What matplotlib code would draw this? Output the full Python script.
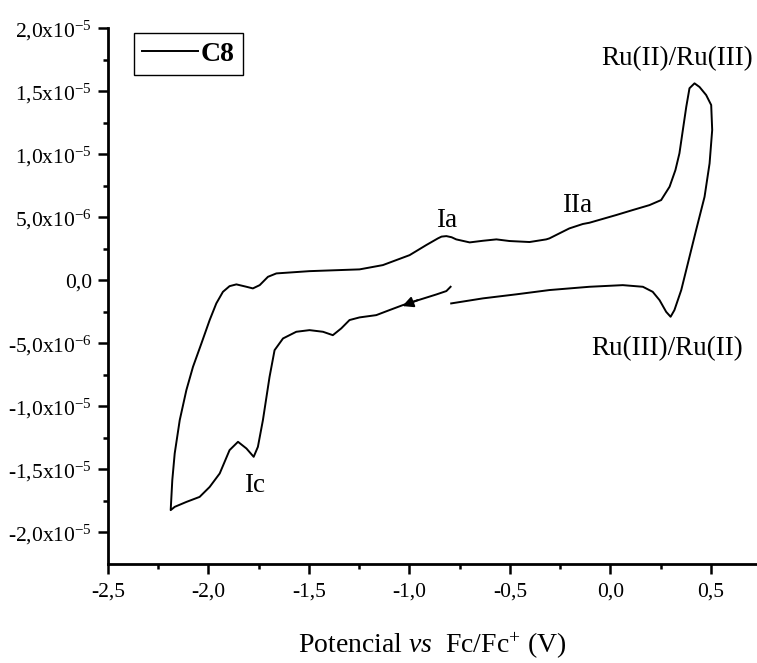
import numpy as np
import matplotlib
matplotlib.use("Agg")
import matplotlib.pyplot as plt
from matplotlib.lines import Line2D

plt.rcParams['font.family'] = ['Liberation Serif', 'DejaVu Serif']
plt.rcParams['mathtext.fontset'] = 'custom'
plt.rcParams['mathtext.rm'] = 'Liberation Serif'
plt.rcParams['mathtext.it'] = 'Liberation Serif:italic'
plt.rcParams['mathtext.bf'] = 'Liberation Serif:bold'

# Cyclic voltammogram of C8: potential (V vs Fc/Fc+) and current (x1e-6 A)
potential = [
    -0.792, -0.634, -0.468, -0.303, -0.104, 0.062, 0.162, 0.211, 0.245, 0.278,
    0.300, 0.319, 0.353, 0.386, 0.427, 0.469, 0.494, 0.507, 0.502,
    0.477, 0.444, 0.419, 0.394, 0.378, 0.361, 0.344, 0.324, 0.295, 0.253,
    0.195, 0.112, 0.029, -0.104, -0.137, -0.204, -0.253, -0.303, -0.319,
    -0.402, -0.502, -0.567, -0.634, -0.700, -0.767, -0.790, -0.816, -0.840,
    -0.858, -0.916, -0.999, -1.132, -1.248, -1.497, -1.662, -1.704, -1.745,
    -1.779, -1.811, -1.861, -1.895, -1.928, -1.961, -1.994, -2.035, -2.077,
    -2.110, -2.143, -2.168, -2.180, -2.188,
    -2.168, -2.110, -2.044, -1.994, -1.944, -1.895, -1.853, -1.811, -1.775,
    -1.754, -1.729, -1.696, -1.671, -1.629, -1.563, -1.497, -1.430, -1.381,
    -1.339, -1.298, -1.248, -1.165, -1.099, -1.032, -0.966, -0.866, -0.816,
    -0.795,
]
current_uA = [
    -1.85, -1.45, -1.13, -0.79, -0.53, -0.40, -0.53, -0.93, -1.59, -2.52,
    -2.91, -2.38, -0.79, 1.33, 3.97, 6.61, 9.26, 11.91, 13.89,
    14.68, 15.32, 15.61, 15.22, 13.75, 11.91, 10.06, 8.73, 7.41, 6.35,
    5.95, 5.56, 5.16, 4.55, 4.45, 4.10, 3.71, 3.31, 3.23,
    3.02, 3.10, 3.23, 3.12, 2.99, 3.23, 3.40, 3.49, 3.45,
    3.31, 2.78, 1.98, 1.19, 0.85, 0.71, 0.53, 0.26, -0.40,
    -0.66, -0.53, -0.34, -0.48, -0.93, -1.85, -3.17, -5.02, -6.88,
    -8.73, -11.11, -13.75, -15.87, -18.25,
    -17.99, -17.60, -17.20, -16.41, -15.34, -13.49, -12.83, -13.36, -14.02,
    -13.23, -11.11, -7.68, -5.56, -4.63, -4.10, -3.97, -4.10, -4.37,
    -3.83, -3.17, -2.96, -2.78, -2.38, -1.98, -1.64, -1.14, -0.87,
    -0.53,
]

# Scan direction arrow (V, x1e-6 A)
arrow_tip = (-1.035, -2.06)
arrow_tail = (-0.959, -1.59)

# Peak labels: text, potential, current (x1e-6 A) at baseline
peak_labels = ["Ru(II)/Ru(III)", "Ru(III)/Ru(II)", "Ia", "IIa", "Ic"]
peak_label_x = [0.334, 0.282, -0.813, -0.163, -1.770]
peak_label_y = [17.06, -5.95, 4.21, 5.40, -16.80]

xtick_values = [-2.5, -2.0, -1.5, -1.0, -0.5, 0.0, 0.5]
xtick_labels = ["-2,5", "-2,0", "-1,5", "-1,0", "-0,5", "0,0", "0,5"]
ytick_values = [2.0e-5, 1.5e-5, 1.0e-5, 5.0e-6, 0.0, -5.0e-6, -1.0e-5, -1.5e-5, -2.0e-5]
ytick_labels = [r"2,0x10$^{\mathregular{-5}}$", r"1,5x10$^{\mathregular{-5}}$",
                r"1,0x10$^{\mathregular{-5}}$", r"5,0x10$^{\mathregular{-6}}$", "0,0",
                r"-5,0x10$^{\mathregular{-6}}$", r"-1,0x10$^{\mathregular{-5}}$",
                r"-1,5x10$^{\mathregular{-5}}$", r"-2,0x10$^{\mathregular{-5}}$"]

fig = plt.figure(figsize=(7.57, 6.63), dpi=100)
W, H = 757, 663
ax = fig.add_axes([108 / W, 1 - 563.7 / H, (W - 108) / W, (563.7 - 28) / H])

E = np.array(potential)
I = np.array(current_uA) * 1e-6
ax.plot(E, I, color='black', lw=1.4, solid_joinstyle='round')

ax.annotate('', xy=(arrow_tip[0], arrow_tip[1] * 1e-6),
            xytext=(arrow_tail[0], arrow_tail[1] * 1e-6),
            arrowprops=dict(arrowstyle='-|>', color='black', lw=1.4,
                            mutation_scale=16, shrinkA=0, shrinkB=0))

for txt, x, y in zip(peak_labels, peak_label_x, peak_label_y):
    ax.text(x, y * 1e-6, txt, fontsize=19.5, ha='center', va='baseline',
            clip_on=False)

ax.set_xlim(-2.5, 0.73)
ax.set_ylim(-2.25e-5, 2.0e-5)

ax.set_xticks(xtick_values)
ax.set_xticklabels(xtick_labels)
ax.set_xticks(np.arange(-2.25, 0.5, 0.5), minor=True)
ax.set_yticks(ytick_values)
ax.set_yticklabels(ytick_labels)
ax.set_yticks(np.arange(-1.75e-5, 2.0e-5, 5e-6), minor=True)

for side in ('top', 'right'):
    ax.spines[side].set_visible(False)
for side in ('left', 'bottom'):
    ax.spines[side].set_linewidth(2.0)

ax.tick_params(which='major', direction='out', length=7.5, width=1.8,
               labelsize=15.5, pad=4)
ax.tick_params(which='minor', direction='out', length=3.8, width=1.8)
ax.tick_params(axis='x', which='major', pad=6)

ax.set_xlabel(r'Potencial $\mathit{vs}$  Fc/Fc$^{+}$ (V)', fontsize=20, labelpad=21)

handle = Line2D([], [], color='black', lw=1.4)
leg = ax.legend([handle], ['C8'], loc='upper left', bbox_to_anchor=(0.040, 0.9907),
                borderaxespad=0, frameon=True, fancybox=False, framealpha=1,
                edgecolor='black', handlelength=2.0, handletextpad=0.1,
                borderpad=0.3, prop={'weight': 'bold', 'size': 20})
leg.get_frame().set_linewidth(1.0)

fig.savefig('out.png', dpi=100)
